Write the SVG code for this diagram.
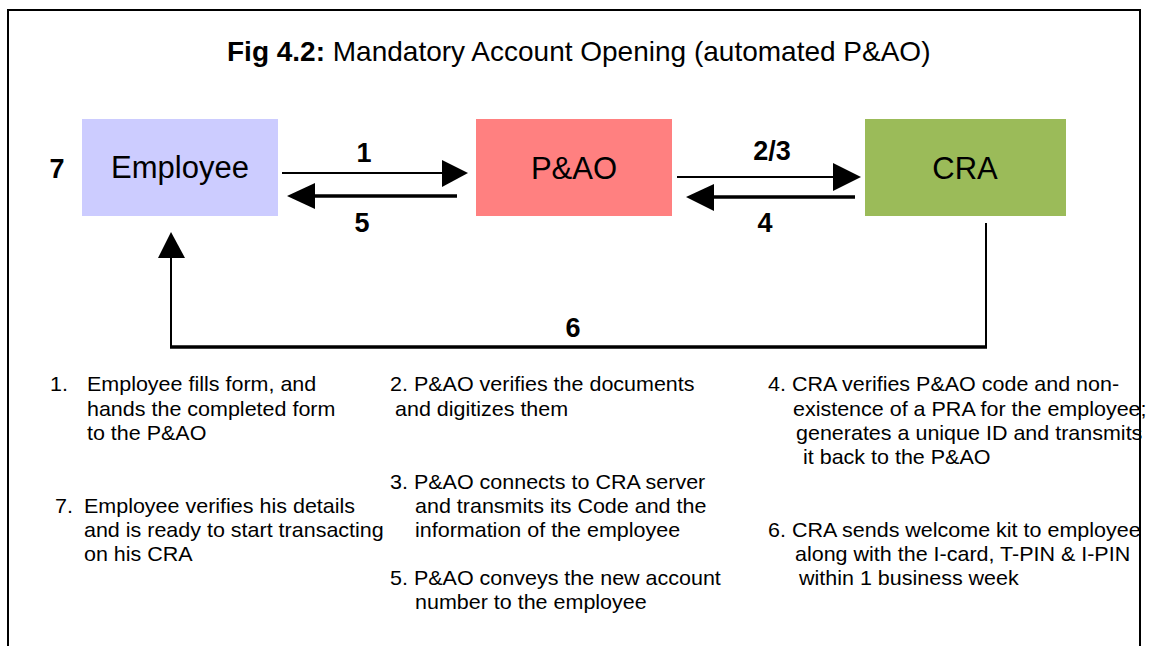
<svg xmlns="http://www.w3.org/2000/svg" width="1150" height="646" viewBox="0 0 1150 646">
  <style>
    .node-label { font-family: "Liberation Sans", Arial, sans-serif; font-size: 31px; fill: #000; text-anchor: middle; }
    .step { font-family: "Liberation Sans", Arial, sans-serif; font-size: 27px; font-weight: bold; fill: #000; text-anchor: middle; }
    .note { font-family: "Liberation Sans", Arial, sans-serif; font-size: 20px; fill: #000; }
    .title { font-family: "Liberation Sans", Arial, sans-serif; font-size: 28px; fill: #000; }
    .thin { stroke: #000; stroke-width: 2; fill: none; }
    .thick { stroke: #000; stroke-width: 3.5; fill: none; }
    .head { fill: #000; }
  </style>

  <rect x="0" y="0" width="1150" height="646" fill="#fff"/>

  <!-- title -->
  <text class="title" x="227" y="61"><tspan font-weight="bold">Fig 4.2:</tspan> Mandatory Account Opening (automated P&amp;AO)</text>

  <!-- nodes -->
  <g id="employee">
    <rect x="82" y="119" width="196" height="97" fill="#ccccff"/>
    <text class="node-label" x="180" y="178">Employee</text>
  </g>
  <g id="paao">
    <rect x="476" y="119" width="196" height="97" fill="#ff8080"/>
    <text class="node-label" x="574" y="179">P&amp;AO</text>
  </g>
  <g id="cra">
    <rect x="865" y="119" width="201" height="97" fill="#9bbb59"/>
    <text class="node-label" x="965" y="179">CRA</text>
  </g>

  <!-- connectors -->
  <g id="connectors">
    <!-- 1: Employee to P&AO -->
    <line class="thin" x1="282" y1="173" x2="443" y2="173"/>
    <polygon class="head" points="442,160 468,173 442,187"/>
    <!-- 5: P&AO back to Employee -->
    <line class="thick" x1="457" y1="196" x2="314" y2="196"/>
    <polygon class="head" points="287,196 315,183 315,209"/>
    <!-- 2/3: P&AO to CRA -->
    <line class="thin" x1="677" y1="177" x2="834" y2="177"/>
    <polygon class="head" points="833,163 861,177 833,191"/>
    <!-- 4: CRA back to P&AO -->
    <line class="thick" x1="855" y1="197" x2="713" y2="197"/>
    <polygon class="head" points="686,197 714,184 714,211"/>
    <!-- 6: CRA round to Employee -->
    <line class="thin" x1="986" y1="223" x2="986" y2="348"/>
    <line stroke="#000" stroke-width="3.5" x1="170" y1="347" x2="987" y2="347"/>
    <line class="thin" x1="171" y1="347" x2="171" y2="257"/>
    <polygon class="head" points="171,232 158,258 185,258"/>
  </g>

  <!-- step numbers -->
  <g id="step-labels">
    <text class="step" x="57" y="178">7</text>
    <text class="step" x="364" y="162">1</text>
    <text class="step" x="362" y="232">5</text>
    <text class="step" x="772" y="160">2/3</text>
    <text class="step" x="765" y="232">4</text>
    <text class="step" x="573" y="337">6</text>
  </g>

  <!-- step descriptions; each column is widened slightly from its left edge -->
  <g id="notes">
    <g transform="translate(50 0) scale(1.075 1)">
      <text class="note" y="391"><tspan x="0">1.</tspan><tspan x="34.4">Employee fills form, and</tspan></text>
      <text class="note" x="34.4" y="416">hands the completed form</text>
      <text class="note" x="34.4" y="440">to the P&amp;AO</text>

      <text class="note" y="513"><tspan x="4.65">7.</tspan><tspan x="31.6">Employee verifies his details</tspan></text>
      <text class="note" x="31.6" y="537">and is ready to start transacting</text>
      <text class="note" x="31.6" y="561">on his CRA</text>
    </g>

    <g transform="translate(390 0) scale(1.075 1)">
      <text class="note" x="0" y="391">2. P&amp;AO verifies the documents</text>
      <text class="note" x="4.65" y="416">and digitizes them</text>

      <text class="note" x="0" y="489">3. P&amp;AO connects to CRA server</text>
      <text class="note" x="23.26" y="513">and transmits its Code and the</text>
      <text class="note" x="23.26" y="537">information of the employee</text>

      <text class="note" x="0" y="585">5. P&amp;AO conveys the new account</text>
      <text class="note" x="23.26" y="609">number to the employee</text>
    </g>

    <g transform="translate(768 0) scale(1.075 1)">
      <text class="note" x="0" y="391">4. CRA verifies P&amp;AO code and non-</text>
      <text class="note" x="23.26" y="416">existence of a PRA for the employee;</text>
      <text class="note" x="26.05" y="440">generates a unique ID and transmits</text>
      <text class="note" x="32.56" y="464">it back to the P&amp;AO</text>

      <text class="note" x="0" y="537">6. CRA sends welcome kit to employee</text>
      <text class="note" x="25.12" y="561">along with the I-card, T-PIN &amp; I-PIN</text>
      <text class="note" x="28.84" y="585">within 1 business week</text>
    </g>
  </g>

  <!-- outer frame, open at the bottom -->
  <path d="M8,646 V10 H1140 V646" fill="none" stroke="#000" stroke-width="2"/>
</svg>
